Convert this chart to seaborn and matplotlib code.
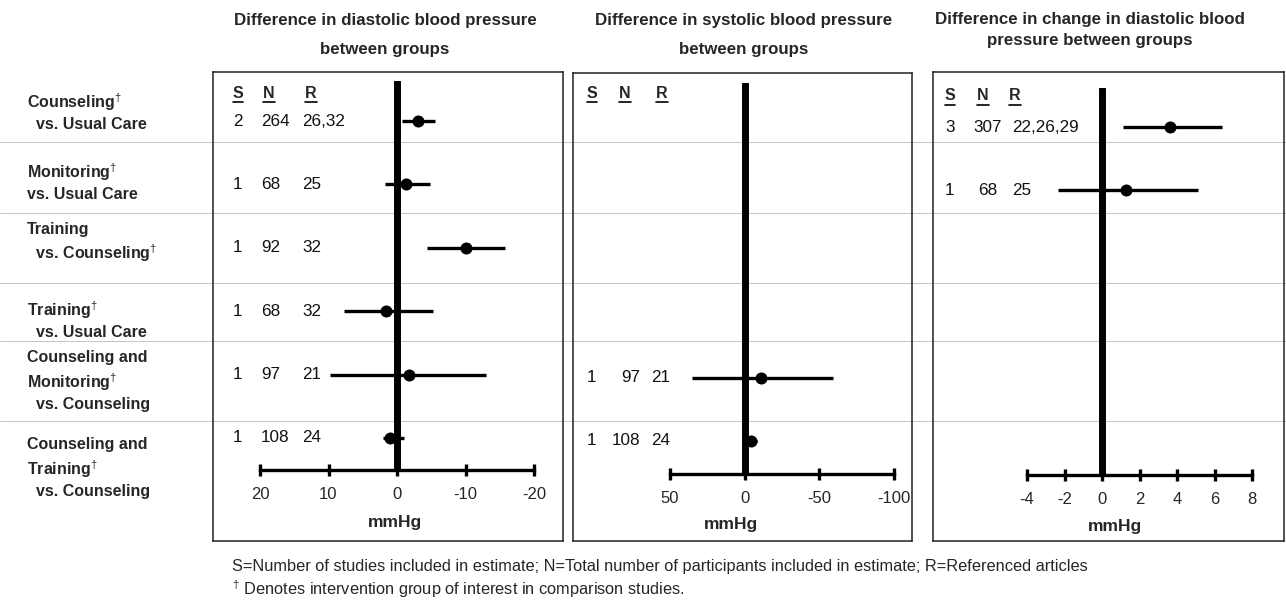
import numpy as np
import pandas as pd
import seaborn as sns
import matplotlib.pyplot as plt
from matplotlib.lines import Line2D
from matplotlib.transforms import blended_transform_factory

# Data

comparisons = [
    'Counseling$^{\\dagger}$\n  vs. Usual Care',
    'Monitoring$^{\\dagger}$\nvs. Usual Care',
    'Training\n  vs. Counseling$^{\\dagger}$',
    'Training$^{\\dagger}$\n  vs. Usual Care',
    'Counseling and\nMonitoring$^{\\dagger}$\n  vs. Counseling',
    'Counseling and\nTraining$^{\\dagger}$\n  vs. Counseling',
]

# Difference in diastolic blood pressure (all six comparisons)
dbp_rows = [0, 1, 2, 3, 4, 5]
dbp_est = [-3.0, -1.3, -10.0, 1.6, -1.8, 1.0]
dbp_low = [-5.5, -4.8, -15.8, -5.3, -13.0, -1.0]
dbp_high = [-0.7, 1.7, -4.4, 7.7, 9.8, 2.0]
dbp_studies = [2, 1, 1, 1, 1, 1]
dbp_n = [264, 68, 92, 68, 97, 108]
dbp_refs = ['26,32', '25', '32', '32', '21', '24']

# Difference in systolic blood pressure
sbp_rows = [4, 5]
sbp_est = [-11.0, -4.0]
sbp_low = [-59.0, -8.5]
sbp_high = [35.0, -1.0]
sbp_studies = [1, 1]
sbp_n = [97, 108]
sbp_refs = ['21', '24']

# Difference in change in diastolic blood pressure
chg_rows = [0, 1]
chg_est = [3.6, 1.3]
chg_low = [1.1, -2.35]
chg_high = [6.4, 5.1]
chg_studies = [3, 1]
chg_n = [307, 68]
chg_refs = ['22,26,29', '25']

titles = [
    'Difference in diastolic blood pressure\nbetween groups',
    'Difference in systolic blood pressure\nbetween groups',
    'Difference in change in diastolic blood\npressure between groups',
]
ticks_dbp = [20, 10, 0, -10, -20]
ticks_sbp = [50, 0, -50, -100]
ticks_chg = [-4, -2, 0, 2, 4, 6, 8]

# Style

sns.set_theme(style='white')
plt.rcParams['font.family'] = ['Liberation Sans', 'DejaVu Sans']
plt.rcParams['mathtext.fontset'] = 'custom'
plt.rcParams['mathtext.rm'] = 'Liberation Sans'
plt.rcParams['mathtext.it'] = 'Liberation Sans'
plt.rcParams['mathtext.bf'] = 'Liberation Sans:bold'

W, H = 1286, 605
ROW_STEP = 63.4

fig = plt.figure(figsize=(W / 100, H / 100), dpi=100)
fig.patch.set_facecolor('white')


def fx(px):
    return px / W


def fy(py):
    return 1 - py / H


def axes_px(left, top, right, bottom):
    return fig.add_axes([fx(left), fy(bottom), (right - left) / W, (bottom - top) / H])


# faint ruled lines between the comparisons
for y in [142, 213, 283, 341, 421]:
    fig.add_artist(Line2D([0, 1], [fy(y), fy(y)], transform=fig.transFigure,
                          color='#c4c4c4', lw=0.7, zorder=-1))

panels = [
    dict(frame=(213, 72, 563, 541), inner=(260, 81, 534, 470), row0=121,
         lim=(20, -20), ticks=ticks_dbp, title_x=385, title_y=35, spacing=2.1, mm=(395, 522),
         head=[(238, 'S'), (269, 'N'), (311, 'R')], head_y=93,
         cols=[(238, 'center'), (261, 'left'), (302, 'left')],
         df=pd.DataFrame({'row': dbp_rows, 'est': dbp_est, 'low': dbp_low, 'high': dbp_high,
                          'S': dbp_studies, 'N': dbp_n, 'R': dbp_refs})),
    dict(frame=(573, 73, 912, 541), inner=(670, 83, 894, 474), row0=124,
         lim=(50, -100), ticks=ticks_sbp, title_x=744, title_y=35, spacing=2.1, mm=(731, 525),
         head=[(592, 'S'), (625, 'N'), (662, 'R')], head_y=93,
         cols=[(591, 'center'), (640, 'right'), (651, 'left')],
         df=pd.DataFrame({'row': sbp_rows, 'est': sbp_est, 'low': sbp_low, 'high': sbp_high,
                          'S': sbp_studies, 'N': sbp_n, 'R': sbp_refs})),
    dict(frame=(933, 72, 1284, 541), inner=(1027, 88, 1252, 475), row0=127,
         lim=(-4, 8), ticks=ticks_chg, title_x=1090, title_y=30, spacing=1.5, mm=(1115, 526),
         head=[(950, 'S'), (983, 'N'), (1015, 'R')], head_y=96,
         cols=[(950, 'center'), (988, 'center'), (1012, 'left')],
         df=pd.DataFrame({'row': chg_rows, 'est': chg_est, 'low': chg_low, 'high': chg_high,
                          'S': chg_studies, 'N': chg_n, 'R': chg_refs})),
]

head_texts = []
for p, title in zip(panels, titles):
    # outer box
    box = axes_px(*p['frame'])
    box.set_facecolor('none')
    box.set_xticks([])
    box.set_yticks([])
    for s in box.spines.values():
        s.set_color('#222222')
        s.set_linewidth(1.1)

    left, top, right, bottom = p['inner']
    ax = axes_px(left, top, right, bottom)
    ax.set_facecolor('none')
    ax.set_xlim(*p['lim'])
    ax.set_ylim((bottom - p['row0']) / ROW_STEP, (top - p['row0']) / ROW_STEP)
    for side in ['top', 'left', 'right']:
        ax.spines[side].set_visible(False)
    ax.spines['bottom'].set_linewidth(2.4)
    ax.spines['bottom'].set_color('black')
    ax.set_yticks([])
    ax.set_xticks(p['ticks'])
    ax.set_xticklabels([str(t) for t in p['ticks']])
    ax.tick_params(axis='x', direction='inout', length=9, width=2.4, color='black',
                   labelsize=12, pad=8, bottom=True)
    ax.axvline(0, color='black', lw=5, zorder=3)

    df = p['df']
    ax.hlines(df['row'], df['low'], df['high'], color='black', lw=2.4, zorder=4)
    sns.scatterplot(data=df, x='est', y='row', ax=ax, color='black', s=75,
                    edgecolor='black', linewidth=0, zorder=5, legend=False)
    ax.set_xlabel('')
    ax.set_ylabel('')

    # study info columns
    tr = blended_transform_factory(fig.transFigure, ax.transData)
    for _, r in df.iterrows():
        for (cx, ha), key in zip(p['cols'], ['S', 'N', 'R']):
            ax.text(fx(cx), r['row'], str(r[key]), transform=tr, ha=ha, va='center',
                    fontsize=12.3, color='#111111', clip_on=False)

    for hx, h in p['head']:
        t = fig.text(fx(hx), fy(p['head_y']), h, ha='center', va='center',
                     fontsize=11.5, fontweight='bold')
        head_texts.append(t)

    fig.text(fx(p['title_x']), fy(p['title_y']), title, ha='center', va='center',
             fontsize=12.2, fontweight='bold', linespacing=p['spacing'])
    fig.text(fx(p['mm'][0]), fy(p['mm'][1]), 'mmHg', ha='center', va='center',
             fontsize=12.5, fontweight='bold')

# comparison labels on the left
label_y = [112, 182, 243, 320, 381, 468]
for lab, y in zip(comparisons, label_y):
    fig.text(fx(27), fy(y), lab, ha='left', va='center', fontsize=11.5,
             fontweight='bold', linespacing=1.35)

# footnotes
fig.text(fx(232), fy(566),
         'S=Number of studies included in estimate; N=Total number of participants '
         'included in estimate; R=Referenced articles', ha='left', va='center', fontsize=11.8)
fig.text(fx(232), fy(589), '$^{\\dagger}$ Denotes intervention group of interest in comparison studies.',
         ha='left', va='center', fontsize=11.8)

# underline the S / N / R headers
fig.canvas.draw()
for t in head_texts:
    bb = t.get_window_extent()
    fig.add_artist(Line2D([bb.x0 / W, bb.x1 / W], [(bb.y0 - 1) / H, (bb.y0 - 1) / H],
                          transform=fig.transFigure, color='black', lw=1.2))

fig.savefig('out.png', dpi=100)
